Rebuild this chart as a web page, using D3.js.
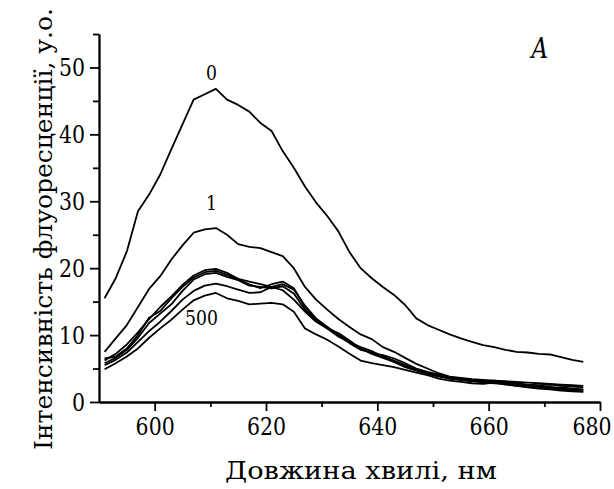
<!DOCTYPE html>
<html>
<head>
<meta charset="utf-8">
<script src="https://cdn.jsdelivr.net/npm/d3@7"></script>
<style>
    body { margin: 0; background: #fff; }
    svg text { font-family: "DejaVu Serif", serif; fill: #000; }
</style>
</head>
<body>
<div id="root"></div>
<script>
// wavelength grid, nm
const wavelengths = [591, 593, 595, 597, 599, 601, 603, 605, 607, 609, 611, 613, 615, 617, 619, 621,
    623, 625, 627, 629, 631, 633, 635, 637, 639, 641, 643, 645, 647, 649, 651, 653, 655, 657, 659,
    661, 663, 665, 667, 669, 671, 673, 675, 677];

// fluorescence intensity, a.u.
const curve0 = [15.5, 18.5, 22.5, 28.5, 31.0, 34.0, 37.8, 41.5, 45.2, 46.0, 46.8, 45.2, 44.4, 43.4, 41.7, 40.5,
    37.5, 35.0, 32.2, 29.8, 27.8, 25.5, 22.4, 20.0, 18.5, 17.2, 16.0, 14.5, 12.5, 11.5, 10.8, 10.1, 9.5, 9.0, 8.5,
    8.2, 7.8, 7.5, 7.4, 7.2, 7.1, 6.7, 6.3, 6.0];
const curve1 = [7.5, 9.5, 11.5, 14.2, 16.9, 18.8, 21.3, 23.4, 25.3, 25.8, 26.0, 25.0, 23.6, 23.2, 23.0, 22.4,
    21.8, 20.0, 17.2, 15.3, 13.8, 12.4, 11.2, 10.1, 9.4, 8.2, 7.5, 6.6, 5.7, 5.0, 4.3, 3.8, 3.6, 3.4, 3.3,
    3.2, 3.1, 3.0, 2.9, 2.8, 2.7, 2.6, 2.5, 2.4];
const curveA = [6.2, 7.2, 8.6, 10.4, 12.4, 14.2, 15.8, 17.5, 18.9, 19.7, 19.9, 19.3, 18.4, 18.0, 17.6, 17.2,
    16.7, 15.3, 13.5, 12.0, 11.0, 10.3, 9.2, 8.0, 7.3, 7.0, 6.5, 5.8, 5.0, 4.5, 4.1, 3.7, 3.5, 3.3, 3.1,
    3.2, 3.0, 2.8, 2.6, 2.5, 2.6, 2.4, 2.3, 2.2];
const curveB = [6.5, 6.8, 8.0, 10.0, 12.6, 13.6, 15.5, 17.2, 18.6, 19.4, 19.6, 19.0, 18.3, 17.6, 17.0, 17.6,
    18.0, 17.0, 14.2, 12.3, 11.2, 10.0, 8.8, 7.8, 7.4, 6.8, 6.2, 5.5, 4.8, 4.3, 3.9, 3.6, 3.4, 3.2, 3.0,
    2.9, 2.8, 2.6, 2.4, 2.2, 2.3, 2.0, 1.9, 1.8];
const curveC = [5.8, 6.6, 7.8, 9.6, 11.8, 13.2, 14.6, 16.6, 18.3, 19.1, 19.3, 18.7, 18.2, 17.4, 17.2, 17.0,
    17.3, 16.2, 13.8, 12.2, 11.0, 9.8, 8.9, 8.2, 7.6, 6.8, 6.0, 5.2, 4.7, 4.2, 3.8, 3.5, 3.3, 3.1, 3.1,
    3.0, 2.7, 2.5, 2.3, 2.4, 2.1, 2.2, 2.0, 1.9];
const curveD = [5.5, 6.3, 7.4, 9.0, 10.6, 12.0, 13.6, 15.3, 16.6, 17.4, 17.7, 17.3, 16.8, 16.3, 16.4, 17.2,
    17.6, 16.8, 14.4, 12.5, 11.2, 10.0, 9.0, 8.0, 7.2, 6.6, 6.0, 5.3, 4.8, 4.4, 4.0, 3.5, 3.3, 3.2, 2.9,
    2.8, 2.7, 2.4, 2.3, 2.1, 2.0, 1.9, 1.7, 1.6];
const curve500 = [4.9, 5.8, 6.8, 8.0, 9.6, 11.0, 12.3, 13.8, 15.2, 15.9, 16.3, 15.5, 15.1, 14.6, 14.7, 14.8,
    14.6, 13.5, 11.0, 10.1, 9.3, 8.3, 7.2, 6.2, 5.8, 5.5, 5.2, 4.8, 4.4, 4.0, 3.5, 3.2, 3.0, 2.8, 2.7,
    2.9, 2.6, 2.4, 2.2, 2.0, 1.9, 1.7, 1.6, 1.5];

const curves = [curve0, curve1, curveA, curveB, curveC, curveD, curve500];

// curve labels: text, wavelength, intensity (baseline)
const labelTexts = ["0", "1", "500"];
const labelX = [610.2, 610.2, 608.4];
const labelY = [48.1, 28.7, 11.5];

const xTicks = [600, 620, 640, 660, 680];
const xMinorTicks = [610, 630, 650, 670];
const yTicks = [0, 10, 20, 30, 40, 50];
const yMinorTicks = [5, 15, 25, 35, 45, 55];

// DejaVu Serif digits are wider than the Times digits of the original
const digitScale = 0.82;

// squeeze text horizontally around its own x position
function squeeze(sel, sx) {
    sel.each(function() {
        let t = d3.select(this);
        let x0 = +t.attr("x") || 0;
        t.attr("x", x0 / sx).attr("transform", `scale(${sx},1)`);
    });
}

function drawChart() {
    const width = 614;
    const height = 489;

    let svg = d3.select("#root")
                .append("svg")
                .attr("width", width)
                .attr("height", height);

    let x = d3.scaleLinear().domain([590, 680]).range([99, 600]);
    let y = d3.scaleLinear().domain([0, 55]).range([402, 34]);

    // minor ticks first, then the labelled axes on top
    svg.append("g")
        .attr("transform", `translate(0,${y(0)})`)
        .call(d3.axisBottom(x).tickValues(xMinorTicks).tickSize(5).tickFormat("").tickSizeOuter(0));
    svg.append("g")
        .attr("transform", `translate(${x(590)},0)`)
        .call(d3.axisLeft(y).tickValues(yMinorTicks).tickSize(6).tickFormat("").tickSizeOuter(0));

    let xAxis = svg.append("g")
        .attr("class", "x-axis")
        .attr("transform", `translate(0,${y(0)})`)
        .call(d3.axisBottom(x).tickValues(xTicks).tickSize(9).tickPadding(6).tickSizeOuter(0));
    let yAxis = svg.append("g")
        .attr("class", "y-axis")
        .attr("transform", `translate(${x(590)},0)`)
        .call(d3.axisLeft(y).tickValues(yTicks).tickSize(9).tickPadding(5).tickSizeOuter(0));

    svg.selectAll("g").attr("font-family", null);
    svg.selectAll(".domain, .tick line")
        .attr("stroke", "#000")
        .attr("stroke-width", 1.8);

    // last x label sits against the right edge, as in the original
    xAxis.selectAll(".tick text")
        .filter(function(d) { return d === 680; })
        .attr("text-anchor", "end")
        .attr("x", 11);

    svg.selectAll(".tick text")
        .style("font-size", "25px")
        .call(squeeze, digitScale);

    // curves
    let line = d3.line()
        .x(function(d, i) { return x(wavelengths[i]); })
        .y(function(d) { return y(d); });

    svg.append("g")
        .attr("class", "curves")
        .selectAll("path")
        .data(curves)
        .enter()
        .append("path")
        .attr("d", line)
        .attr("fill", "none")
        .attr("stroke", "#000")
        .attr("stroke-width", 1.8)
        .attr("stroke-linejoin", "round");

    svg.append("g")
        .selectAll("text")
        .data(labelTexts)
        .enter()
        .append("text")
        .attr("x", function(d, i) { return x(labelX[i]); })
        .attr("y", function(d, i) { return y(labelY[i]); })
        .attr("text-anchor", "middle")
        .style("font-size", "21px")
        .text(function(d) { return d; })
        .call(squeeze, digitScale);

    svg.append("text")
        .attr("x", x(669.2))
        .attr("y", y(51.4))
        .attr("text-anchor", "middle")
        .style("font-size", "27px")
        .style("font-style", "italic")
        .text("A")
        .call(squeeze, 0.85);

    // axis titles
    svg.append("text")
        .attr("x", 361)
        .attr("y", 479)
        .attr("text-anchor", "middle")
        .style("font-size", "24px")
        .attr("textLength", 272)
        .attr("lengthAdjust", "spacingAndGlyphs")
        .text("Довжина хвилі, нм");

    svg.append("text")
        .attr("transform", "translate(52,229) rotate(-90)")
        .attr("text-anchor", "middle")
        .style("font-size", "24px")
        .attr("textLength", 442)
        .attr("lengthAdjust", "spacingAndGlyphs")
        .text("Інтенсивність флуоресценції, у.о.");
}

drawChart();
</script>
</body>
</html>
